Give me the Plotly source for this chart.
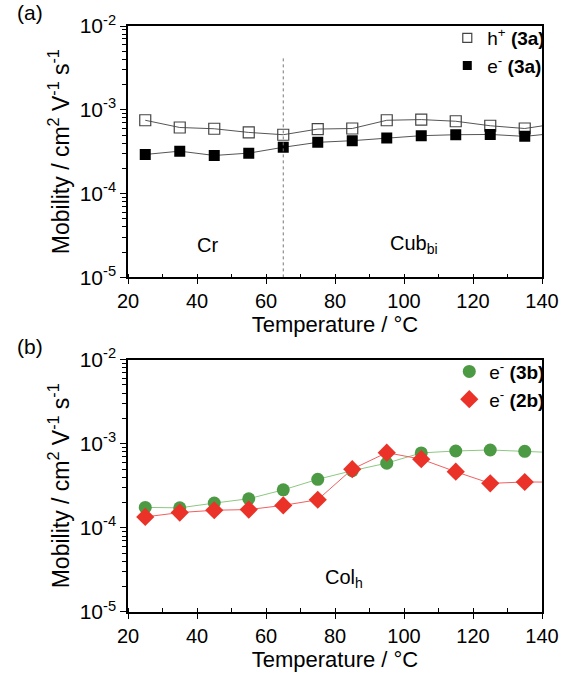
import plotly.graph_objects as go

temps = [25, 35, 45, 55, 65, 75, 85, 95, 105, 115, 125, 135, 145]
h_3a = [7.5e-4, 6.15e-4, 5.94e-4, 5.37e-4, 5.04e-4, 5.89e-4, 5.98e-4, 7.5e-4, 7.64e-4, 7.3e-4, 6.45e-4, 5.98e-4, 6.9e-4]
e_3a = [2.93e-4, 3.21e-4, 2.85e-4, 3.04e-4, 3.57e-4, 4.09e-4, 4.28e-4, 4.61e-4, 4.91e-4, 5.04e-4, 5.08e-4, 4.82e-4, 5.3e-4]
e_3b = [1.75e-4, 1.73e-4, 1.97e-4, 2.22e-4, 2.83e-4, 3.78e-4, 4.78e-4, 5.88e-4, 7.78e-4, 8.2e-4, 8.43e-4, 8.13e-4, 7.8e-4]
e_2b = [1.35e-4, 1.52e-4, 1.62e-4, 1.65e-4, 1.85e-4, 2.16e-4, 4.99e-4, 7.84e-4, 6.55e-4, 4.65e-4, 3.38e-4, 3.51e-4, 3.5e-4]

transition_T = 65
xticks = [20, 40, 60, 80, 100, 120, 140]
decades = [1e-5, 1e-4, 1e-3, 1e-2]
decade_labels = ["10<sup>-5</sup>", "10<sup>-4</sup>", "10<sup>-3</sup>", "10<sup>-2</sup>"]

FONT = "Liberation Sans, Arial, sans-serif"
minor_y = [m * d for d in decades[:-1] for m in range(2, 10)]

fig = go.Figure()

# top panel
fig.add_trace(go.Scatter(x=temps, y=h_3a, mode="lines+markers", xaxis="x", yaxis="y",
                         line=dict(color="#555555", width=1),
                         marker=dict(symbol="square-open", size=11, color="#444444", line=dict(width=1.2)),
                         showlegend=False))
fig.add_trace(go.Scatter(x=temps, y=e_3a, mode="lines+markers", xaxis="x", yaxis="y",
                         line=dict(color="#555555", width=1),
                         marker=dict(symbol="square", size=11, color="black"),
                         showlegend=False))
fig.add_trace(go.Scatter(x=[None], y=[None], mode="markers", xaxis="x", yaxis="y",
                         marker=dict(symbol="square-open", size=9, color="#444444", line=dict(width=1.2)),
                         name="h<sup>+</sup> <b>(3a)</b>", legend="legend"))
fig.add_trace(go.Scatter(x=[None], y=[None], mode="markers", xaxis="x", yaxis="y",
                         marker=dict(symbol="square", size=9, color="black"),
                         name="e<sup>-</sup> <b>(3a)</b>", legend="legend"))

# bottom panel
fig.add_trace(go.Scatter(x=temps, y=e_3b, mode="lines+markers", xaxis="x2", yaxis="y2",
                         line=dict(color="#8cc882", width=1),
                         marker=dict(symbol="circle", size=13, color="#4c9a43"),
                         showlegend=False))
fig.add_trace(go.Scatter(x=temps, y=e_2b, mode="lines+markers", xaxis="x2", yaxis="y2",
                         line=dict(color="#f06060", width=1),
                         marker=dict(symbol="diamond", size=14, color="#ea3228"),
                         showlegend=False))
fig.add_trace(go.Scatter(x=[None], y=[None], mode="markers", xaxis="x2", yaxis="y2",
                         marker=dict(symbol="circle", size=13, color="#4c9a43"),
                         name="e<sup>-</sup> <b>(3b)</b>", legend="legend2"))
fig.add_trace(go.Scatter(x=[None], y=[None], mode="markers", xaxis="x2", yaxis="y2",
                         marker=dict(symbol="diamond", size=14, color="#ea3228"),
                         name="e<sup>-</sup> <b>(2b)</b>", legend="legend2"))

# dotted transition line
fig.add_trace(go.Scatter(x=[transition_T, transition_T], y=[1e-5, 4.2e-3], mode="lines", xaxis="x", yaxis="y",
                         line=dict(color="#777777", width=1, dash="dot"), showlegend=False, hoverinfo="skip"))

xaxis_common = dict(range=[20, 140], tickvals=xticks, ticks="outside", ticklen=5, tickwidth=1.2,
                    tickcolor="black", showline=True, linecolor="black", linewidth=1.5, mirror=True,
                    showgrid=False, zeroline=False, tickfont=dict(size=20, family=FONT, color="black"),
                    minor=dict(dtick=10, tick0=0, ticks="inside", ticklen=4, tickcolor="black", tickwidth=1),
                    title=dict(text="Temperature / °C", font=dict(size=22, family=FONT, color="black"), standoff=0))
yaxis_common = dict(type="log", range=[-5, -2], tickvals=decades, ticktext=decade_labels, ticks="outside",
                    ticklen=6, tickwidth=1.2, tickcolor="black", showline=True, linecolor="black", linewidth=1.5,
                    mirror=True, showgrid=False, zeroline=False,
                    tickfont=dict(size=21, family=FONT, color="black"),
                    minor=dict(tickvals=minor_y, ticks="outside", ticklen=4, tickcolor="black", tickwidth=1),
                    title=dict(text="Mobility / cm<sup>2</sup> V<sup>-1</sup> s<sup>-1</sup>",
                               font=dict(size=23, family=FONT, color="black"), standoff=4))

fig.update_layout(
    width=571, height=674,
    margin=dict(l=128, r=19, t=25, b=57),
    paper_bgcolor="white", plot_bgcolor="white",
    font=dict(family=FONT, color="black"),
    xaxis=dict(domain=[0, 1], anchor="y", **xaxis_common),
    yaxis=dict(domain=[0.571, 1.0], anchor="x", **yaxis_common),
    xaxis2=dict(domain=[0, 1], anchor="y2", **xaxis_common),
    yaxis2=dict(domain=[0.0, 0.4307], anchor="x2", **yaxis_common),
    legend=dict(x=1.02, y=1.012, xanchor="right", yanchor="top", bgcolor="rgba(0,0,0,0)",
                font=dict(size=19, family=FONT, color="black"), itemwidth=30, tracegroupgap=0),
    legend2=dict(x=1.02, y=0.4427, xanchor="right", yanchor="top", bgcolor="rgba(0,0,0,0)",
                 font=dict(size=19, family=FONT, color="black"), itemwidth=30, tracegroupgap=0),
    annotations=[
        dict(text="Cr", x=43, y=-4.61, xref="x", yref="y", showarrow=False, font=dict(size=20, family=FONT)),
        dict(text="Cub<sub>bi</sub>", x=103, y=-4.61, xref="x", yref="y", showarrow=False, font=dict(size=20, family=FONT)),
        dict(text="Col<sub>h</sub>", x=82.5, y=-4.6, xref="x2", yref="y2", showarrow=False, font=dict(size=20, family=FONT)),
        dict(text="(a)", x=-0.272, y=1.0, xref="paper", yref="paper", xanchor="left", yanchor="bottom",
             showarrow=False, font=dict(size=21, family=FONT)),
        dict(text="(b)", x=-0.272, y=0.4307, xref="paper", yref="paper", xanchor="left", yanchor="bottom",
             showarrow=False, font=dict(size=21, family=FONT)),
    ],
)

fig.write_html("out.html", config={"displayModeBar": False},
               post_script="document.body.style.margin='0';document.body.style.overflow='hidden';")
